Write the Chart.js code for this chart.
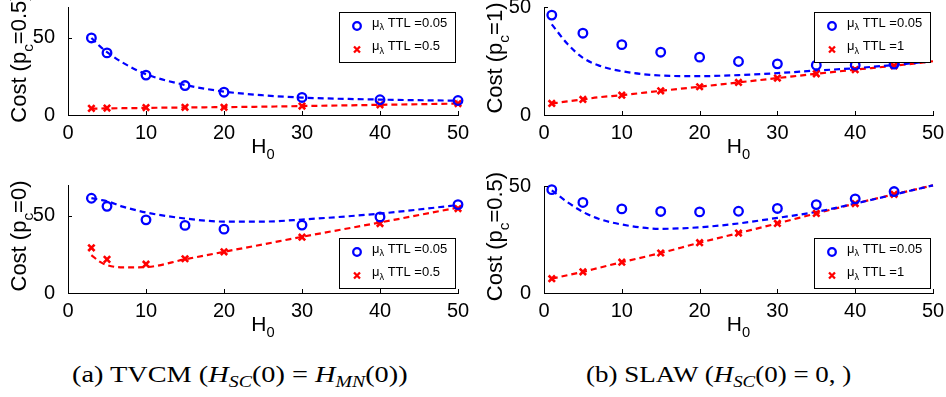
<!DOCTYPE html>
<html>
<head>
<meta charset="utf-8">
<script src="https://cdn.jsdelivr.net/npm/chart.js@4.4.0/dist/chart.umd.min.js"></script>
<style>
body { margin: 0; background: #fff; }
#fig { position: relative; width: 946px; height: 397px; overflow: hidden; }
canvas { position: absolute; }
.cap { position: absolute; top: 363px; font-family: "Liberation Serif", "Times New Roman", serif; font-size: 23px; line-height: 23px; white-space: nowrap; transform-origin: 0 0; color: #000; }
.cap sub { font-size: 0.7em; vertical-align: -0.3em; line-height: 0; }
</style>
</head>
<body>
<div id="fig">
  <canvas id="tvcmHalf" width="473" height="170" style="left:0;top:0"></canvas>
  <canvas id="slawOne" width="473" height="170" style="left:473px;top:0"></canvas>
  <canvas id="tvcmZero" width="473" height="170" style="left:0;top:170px"></canvas>
  <canvas id="slawHalf" width="473" height="170" style="left:473px;top:170px"></canvas>
  <div class="cap" id="capA" style="left:72px">(a) TVCM (<i>H</i><sub><i>SC</i></sub>(0) = <i>H</i><sub><i>MN</i></sub>(0))</div>
  <div class="cap" id="capB" style="left:586px">(b) SLAW (<i>H</i><sub><i>SC</i></sub>(0) = 0, )</div>
</div>
<script>
// tick labels
const xTicks = [0, 10, 20, 30, 40, 50];
const yTicks = [0, 50];

// TVCM panels (H0 values and fitted curve sample points)
const tvcmH = [3, 5, 10, 15, 20, 30, 40, 50];
const tvcmFitH = [3, 4, 5, 7, 10, 15, 20, 25, 30, 40, 50];

// TVCM, pc = 0.5
const tvcmHalfBlue = [50, 40.3, 25.9, 19.1, 14.8, 11.4, 9.9, 9.4];
const tvcmHalfRed = [4.3, 4.5, 4.8, 5, 5, 5.8, 6.6, 7.4];
const tvcmHalfBlueFit = [50, 45, 40.8, 34, 26.5, 19.5, 15.2, 12.8, 11.3, 10, 9.3];
const tvcmHalfRedFit = [4.2, 4.2, 4.3, 4.4, 4.6, 4.9, 5.1, 5.4, 5.8, 6.6, 7.4];

// TVCM, pc = 0
const tvcmZeroBlue = [61.4, 56.2, 47.4, 43.8, 41.4, 44, 49.3, 57.3];
const tvcmZeroRed = [29.3, 21.8, 18.7, 22.2, 26.7, 36.2, 45, 54.7];
const tvcmZeroBlueFit = [61.5, 60.5, 59.5, 56, 52.2, 48.3, 46.3, 46.3, 47.6, 51.5, 57];
const tvcmZeroRedFit = [24.6, 20.5, 18.1, 16.6, 16.8, 21.8, 26.7, 31.5, 36.4, 45.7, 55.4];

// SLAW panels
const slawH = [1, 5, 10, 15, 20, 25, 30, 35, 40, 45];
const slawFitH = [1, 3, 5, 7, 10, 15, 20, 25, 30, 35, 40, 45, 50];

// SLAW, pc = 1
const slawOneBlue = [46.3, 37.9, 32.6, 29.1, 26.8, 24.8, 23.7, 23.1, 23.1, 23.6];
const slawOneRed = [5.35, 7.2, 9.2, 11.2, 13.1, 15.1, 17.1, 19.1, 21, 22.8];
const slawOneBlueFit = [42, 33, 26.5, 23, 20.3, 18.3, 18, 18.5, 19.4, 20.6, 21.7, 23.2, 24.9];
const slawOneRedFit = [5.3, 6.3, 7.2, 8.2, 9.2, 11.2, 13.1, 15.1, 17.1, 19.1, 21, 22.8, 24.9];

// SLAW, pc = 0.5
const slawHalfBlue = [48.3, 42.3, 39.3, 38.1, 37.9, 38.2, 39.5, 41.3, 44, 47.4];
const slawHalfRed = [6.7, 9.9, 14.4, 18.7, 23.5, 28, 32.5, 37.2, 41.8, 46.1];
const slawHalfBlueFit = [48, 42.5, 37.9, 34.7, 32, 30, 30.7, 32.5, 35.1, 37.9, 41.8, 46, 50.3];
const slawHalfRedFit = [6.7, 8.3, 9.9, 11.7, 14.4, 18.7, 23.5, 28, 32.5, 37.2, 41.8, 46.1, 50.3];

const BLUE = '#0000ff', RED = '#ff0000';
const FONT = '"Liberation Sans", Arial, sans-serif';

function pts(xs, ys) {
  return xs.map((x, i) => ({x: x, y: ys[i]}));
}

// draws text where "_c" makes c a subscript
function richText(ctx, str, x, y, size, align) {
  var parts = [];
  str.split('_').forEach((s, i) => {
    if (i === 0) { parts.push({t: s, sub: false}); return; }
    parts.push({t: s.charAt(0), sub: true});
    if (s.length > 1) parts.push({t: s.slice(1), sub: false});
  });
  ctx.textAlign = 'left';
  ctx.textBaseline = 'alphabetic';
  var total = 0;
  parts.forEach(p => {
    ctx.font = (p.sub ? size * 0.7 : size) + 'px ' + FONT;
    p.w = ctx.measureText(p.t).width;
    total += p.w;
  });
  var cx = align === 'center' ? x - total / 2 : x;
  parts.forEach(p => {
    ctx.font = (p.sub ? size * 0.7 : size) + 'px ' + FONT;
    ctx.fillText(p.t, cx, p.sub ? y + size * 0.3 : y);
    cx += p.w;
  });
}

// inward ticks, axis titles and the boxed legend
const figPlugin = {
  id: 'fig',
  afterDraw: (chart, args, o) => {
    const {ctx, chartArea: a, scales} = chart;
    ctx.save();
    ctx.strokeStyle = '#000';
    ctx.lineWidth = 1;
    ctx.beginPath();
    xTicks.forEach(v => {
      var px = Math.round(scales.x.getPixelForValue(v)) + 0.5;
      ctx.moveTo(px, a.bottom);
      ctx.lineTo(px, a.bottom - 4);
    });
    yTicks.forEach(v => {
      var py = Math.round(scales.y.getPixelForValue(v)) + 0.5;
      ctx.moveTo(a.left, py);
      ctx.lineTo(a.left + 4, py);
    });
    ctx.stroke();

    ctx.fillStyle = '#000';
    richText(ctx, 'H_0', (a.left + a.right) / 2, a.bottom + 38, 21, 'center');
    ctx.save();
    ctx.translate(a.left - 42, (a.top + a.bottom) / 2 - 3);
    ctx.rotate(-Math.PI / 2);
    richText(ctx, o.yTitle, 0, 0, 22, 'center');
    ctx.restore();

    var bw = 116, bh = 50;
    var bx = Math.round(a.right - 3 - bw);
    var by = Math.round(o.legendAt === 'top' ? a.top + 5 : a.bottom - 5 - bh);
    ctx.fillStyle = '#fff';
    ctx.fillRect(bx, by, bw, bh);
    ctx.strokeStyle = '#000';
    ctx.lineWidth = 1;
    ctx.strokeRect(bx + 0.5, by + 0.5, bw, bh);
    chart.data.datasets.filter(d => d.label).forEach((d, i) => {
      var my = by + 14 + i * 23.5;
      var mx = bx + 18;
      ctx.strokeStyle = d.borderColor;
      ctx.lineWidth = 2.3;
      ctx.beginPath();
      if (d.pointStyle === 'circle') {
        ctx.arc(mx, my, 3.8, 0, Math.PI * 2);
      } else {
        ctx.moveTo(mx - 3, my - 3); ctx.lineTo(mx + 3, my + 3);
        ctx.moveTo(mx + 3, my - 3); ctx.lineTo(mx - 3, my + 3);
      }
      ctx.stroke();
      ctx.fillStyle = '#000';
      richText(ctx, d.label, bx + 33, my + 0.5, 13, 'left');
    });
    ctx.restore();
  }
};

function panel(id, o) {
  return new Chart(document.getElementById(id), {
    type: 'line',
    data: {
      datasets: [
        { label: o.labels[0], data: pts(o.h, o.blue), showLine: false, pointStyle: 'circle', pointRadius: 4.3,
          borderColor: BLUE, backgroundColor: 'rgba(0,0,0,0)', pointBorderWidth: 2.3, clip: false },
        { label: o.labels[1], data: pts(o.h, o.red), showLine: false, pointStyle: 'crossRot', pointRadius: 4.5,
          borderColor: RED, backgroundColor: RED, pointBorderWidth: 2.6, clip: false },
        { data: pts(o.fitH, o.blueFit), borderColor: BLUE, borderWidth: 2.2, borderDash: [6, 4],
          pointRadius: 0, cubicInterpolationMode: 'monotone', clip: false },
        { data: pts(o.fitH, o.redFit), borderColor: RED, borderWidth: 2.2, borderDash: [6, 4],
          pointRadius: 0, cubicInterpolationMode: 'monotone', clip: false }
      ]
    },
    options: {
      responsive: false,
      animation: false,
      devicePixelRatio: 1,
      layout: { padding: { left: 0, top: o.top, right: o.right, bottom: 0 } },
      plugins: {
        legend: { display: false },
        tooltip: { enabled: false },
        fig: { yTitle: o.yTitle, legendAt: o.legendAt }
      },
      scales: {
        x: {
          type: 'linear', min: 0, max: 50,
          grid: { display: false },
          border: { display: true, color: '#000', width: 1 },
          ticks: { color: '#000', font: { family: FONT, size: 20 }, padding: -2, maxRotation: 0 },
          afterBuildTicks: s => { s.ticks = xTicks.map(v => ({value: v})); },
          afterFit: s => { s.height = o.xh; s.paddingLeft = 0; s.paddingRight = 0; }
        },
        y: {
          min: 0, max: o.ymax,
          grid: { display: false },
          border: { display: true, color: '#000', width: 1 },
          ticks: { color: '#000', font: { family: FONT, size: 20 }, padding: 5 },
          afterBuildTicks: s => { s.ticks = yTicks.map(v => ({value: v})); },
          afterFit: s => { s.width = o.yw; s.paddingTop = 0; s.paddingBottom = 0; }
        }
      }
    },
    plugins: [figPlugin]
  });
}

panel('tvcmHalf', {
  h: tvcmH, fitH: tvcmFitH, blue: tvcmHalfBlue, red: tvcmHalfRed, blueFit: tvcmHalfBlueFit, redFit: tvcmHalfRedFit,
  labels: ['μ_λ TTL =0.05', 'μ_λ TTL =0.5'], yTitle: 'Cost (p_c=0.5)', legendAt: 'top',
  ymax: 70, yw: 68, xh: 55, top: 5, right: 15
});
panel('slawOne', {
  h: slawH, fitH: slawFitH, blue: slawOneBlue, red: slawOneRed, blueFit: slawOneBlueFit, redFit: slawOneRedFit,
  labels: ['μ_λ TTL =0.05', 'μ_λ TTL =1'], yTitle: 'Cost (p_c=1)', legendAt: 'top',
  ymax: 50, yw: 71, xh: 55, top: 6, right: 13
});
panel('tvcmZero', {
  h: tvcmH, fitH: tvcmFitH, blue: tvcmZeroBlue, red: tvcmZeroRed, blueFit: tvcmZeroBlueFit, redFit: tvcmZeroRedFit,
  labels: ['μ_λ TTL =0.05', 'μ_λ TTL =0.5'], yTitle: 'Cost (p_c=0)', legendAt: 'bottom',
  ymax: 70, yw: 68, xh: 47, top: 15, right: 15
});
panel('slawHalf', {
  h: slawH, fitH: slawFitH, blue: slawHalfBlue, red: slawHalfRed, blueFit: slawHalfBlueFit, redFit: slawHalfRedFit,
  labels: ['μ_λ TTL =0.05', 'μ_λ TTL =1'], yTitle: 'Cost (p_c=0.5)', legendAt: 'bottom',
  ymax: 50, yw: 71, xh: 47, top: 16, right: 13
});

// stretch captions to the width they have in the figure
[['capA', 336], ['capB', 265]].forEach(c => {
  var el = document.getElementById(c[0]);
  el.style.transform = 'scaleX(' + (c[1] / el.offsetWidth) + ')';
});
</script>
</body>
</html>
